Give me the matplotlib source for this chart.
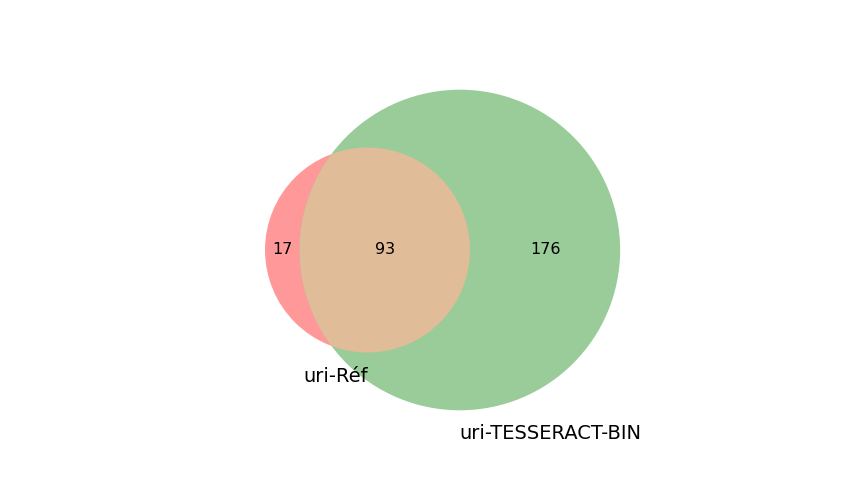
import numpy as np
import matplotlib
matplotlib.use("Agg")
import matplotlib.pyplot as plt
from matplotlib.patches import Circle

# set labels and region counts
set_labels = ["uri-Réf", "uri-TESSERACT-BIN"]
only_a = 17
both = 93
only_b = 176

def overlap_area(d, r1, r2):
    # area of the lens shared by two circles
    if d >= r1 + r2:
        return 0.0
    if d <= abs(r1 - r2):
        return np.pi * min(r1, r2) ** 2
    a1 = r1**2 * np.arccos((d**2 + r1**2 - r2**2) / (2 * d * r1))
    a2 = r2**2 * np.arccos((d**2 + r2**2 - r1**2) / (2 * d * r2))
    k = 0.5 * np.sqrt((-d + r1 + r2) * (d + r1 - r2) * (d - r1 + r2) * (d + r1 + r2))
    return a1 + a2 - k

def find_distance(r1, r2, target):
    lo, hi = abs(r1 - r2), r1 + r2
    for i in range(100):
        mid = (lo + hi) / 2
        if overlap_area(mid, r1, r2) > target:
            lo = mid
        else:
            hi = mid
    return (lo + hi) / 2

r_a = np.sqrt(only_a + both)
r_b = np.sqrt(only_b + both)
d = find_distance(r_a, r_b, np.pi * both)
ca = np.array([0.0, 0.0])
cb = np.array([d, 0.0])

fig = plt.figure(figsize=(8.64, 5.04), dpi=100)
ax = fig.add_axes([0.125, 0.11, 0.775, 0.77])

red = Circle(ca, r_a, facecolor="#ff9999", edgecolor="none")
green = Circle(cb, r_b, facecolor="#99cc99", edgecolor="none")
ax.add_patch(red)
ax.add_patch(green)
mix = Circle(ca, r_a, facecolor="#e0bc98", edgecolor="none")
ax.add_patch(mix)
mix.set_clip_path(green)

# region labels
x_left = ca[0] - r_a
x_lens_l = cb[0] - r_b
ax.text((x_left + x_lens_l) / 2, 0, str(only_a), ha="center", va="center", fontsize=11.5)
ax.text((x_lens_l + ca[0] + r_a) / 2, 0, str(both), ha="center", va="center", fontsize=11.5)
ax.text((ca[0] + r_a + cb[0] + r_b) / 2, 0, str(only_b), ha="center", va="center", fontsize=11.5)

ax.text(ca[0] - 0.31 * r_a, -r_a * 1.23, set_labels[0], ha="center", va="center", fontsize=14)
ax.text(cb[0] + 0.565 * r_b, -r_b * 1.145, set_labels[1], ha="center", va="center", fontsize=14)

s = r_a / 102.5  # data units per pixel
pw, ph = 864 * 0.775, 504 * 0.77
x0 = (108 - 367.5) * s
y_top = (250 - 504 * (1 - 0.11 - 0.77)) * s
ax.set_xlim(x0, x0 + pw * s)
ax.set_ylim(y_top - ph * s, y_top)
ax.set_aspect("equal", adjustable="box")
ax.axis("off")

fig.savefig("out.png", dpi=100)
